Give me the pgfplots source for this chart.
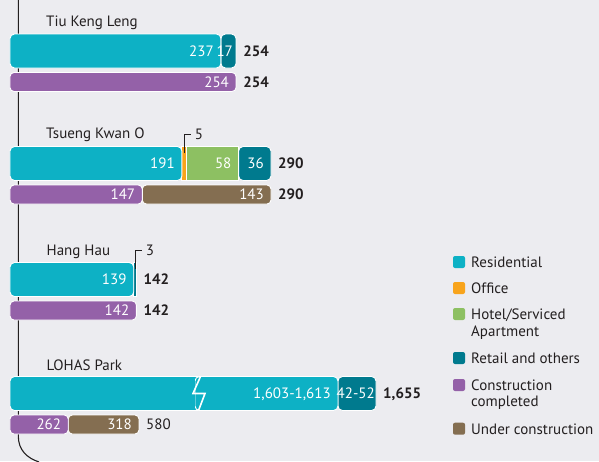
\documentclass[border=0pt]{standalone}
\usepackage{pgfplots}
\pgfplotsset{compat=1.18}
\usepackage{fontspec}
\setmainfont{PT Sans}
\definecolor{bg}{RGB}{236,236,240}
\definecolor{cRes}{RGB}{13,177,197}
\definecolor{cOff}{RGB}{248,164,28}
\definecolor{cHot}{RGB}{141,192,98}
\definecolor{cRet}{RGB}{0,122,142}
\definecolor{cCom}{RGB}{148,97,168}
\definecolor{cUnd}{RGB}{132,110,81}
\definecolor{txt}{RGB}{35,31,32}
\pgfplotsset{
  row/.style={
    xbar stacked, hide axis, clip=false,
    xmin=0, ymin=-1, ymax=1, y=20pt, anchor=west,
    every axis plot/.append style={draw=white, line width=0.9pt},
  },
  up/.style={row, bar width=34pt},
  low/.style={row, bar width=19pt},
}
\tikzset{
  lab/.style={anchor=base east, text=white, inner sep=0pt, xshift=-7pt, yshift=-5.2pt},
  tot/.style={anchor=base west, text=txt, inner sep=0pt, xshift=7pt, yshift=-5.2pt, font=\fontsize{15}{17}\selectfont\bfseries},
  grp/.style={anchor=base west, text=txt, inner sep=0pt},
  leg/.style={anchor=base west, text=txt, inner sep=0pt},
}
\begin{document}
\begin{tikzpicture}[font=\fontsize{15}{17}\selectfont]
\path[use as bounding box, fill=bg] (0pt,0pt) rectangle (599pt,-461pt);
\draw[txt, line width=1.1pt] (18.3pt,1pt) -- (18.3pt,-436pt) .. controls (18.3pt,-450pt) and (27pt,-458pt) .. (39pt,-462pt);

% group titles
\node[grp] at (46pt,-26.7pt) {Tiu Keng Leng};
\node[grp] at (46pt,-138.3pt) {Tsueng Kwan O};
\node[grp] at (46.5pt,-255.7pt) {Hang Hau};
\node[grp] at (46.5pt,-370pt) {LOHAS Park};

% Tiu Keng Leng
\begin{axis}[up, at={(10pt,-51pt)}, x=0.89pt, xmax=300]
\addplot[fill=cRes, rounded corners=4.5pt] coordinates {(237,0)};
\addplot[fill=cRet, rounded corners=4.5pt] coordinates {(17,0)};
\coordinate (a1) at (axis cs:237,0);
\coordinate (a2) at (axis cs:254,0);
\end{axis}
\node[lab] at (a1) {237};
\node[lab, xshift=4pt] at (a2) {17};
\node[tot] at (a2) {254};
\begin{axis}[low, at={(10pt,-82pt)}, x=0.89pt, xmax=300]
\addplot[fill=cCom, rounded corners=4pt] coordinates {(254,0)};
\coordinate (b1) at (axis cs:254,0);
\end{axis}
\node[lab] at (b1) {254};
\node[tot] at (b1) {254};

% Tsueng Kwan O
\begin{axis}[up, at={(10pt,-163.5pt)}, x=0.9pt, xmax=300]
\addplot[fill=cRes, rounded corners=4.5pt] coordinates {(191,0)};
\addplot[fill=cOff] coordinates {(5,0)};
\addplot[fill=cHot] coordinates {(58,0)};
\addplot[fill=cRet, rounded corners=4.5pt] coordinates {(36,0)};
\coordinate (c1) at (axis cs:191,0);
\coordinate (c2) at (axis cs:193.5,0);
\coordinate (c3) at (axis cs:254,0);
\coordinate (c4) at (axis cs:290,0);
\end{axis}
\node[lab] at (c1) {191};
\node[lab] at (c3) {58};
\node[lab] at (c4) {36};
\node[tot] at (c4) {290};
\draw[txt, line width=0.9pt] (c2) ++(0pt,10.5pt) -- ++(0pt,19pt) -- ++(6.7pt,0pt) node[anchor=west, inner sep=0pt, xshift=3.5pt, text=txt] {5};
\begin{axis}[low, at={(10pt,-194.5pt)}, x=0.9pt, xmax=300]
\addplot[fill=cCom, rounded corners=4pt] coordinates {(147,0)};
\addplot[fill=cUnd, rounded corners=4pt] coordinates {(143,0)};
\coordinate (d1) at (axis cs:147,0);
\coordinate (d2) at (axis cs:290,0);
\end{axis}
\node[lab] at (d1) {147};
\node[lab] at (d2) {143};
\node[tot] at (d2) {290};

% Hang Hau
\begin{axis}[up, at={(10pt,-279.5pt)}, x=0.89pt, xmax=300]
\addplot[fill=cRes, rounded corners=4.5pt] coordinates {(139,0)};
\addplot[fill=cRet] coordinates {(3,0)};
\coordinate (e1) at (axis cs:139,0);
\coordinate (e2) at (axis cs:140.8,0);
\coordinate (e3) at (axis cs:142,0);
\end{axis}
\node[lab] at (e1) {139};
\node[tot] at (e3) {142};
\draw[txt, line width=0.9pt] (e2) ++(0pt,11pt) -- ++(0pt,18pt) -- ++(6.7pt,0pt) node[anchor=west, inner sep=0pt, xshift=3.5pt, text=txt] {3};
\begin{axis}[low, at={(10pt,-310.5pt)}, x=0.89pt, xmax=300]
\addplot[fill=cCom, rounded corners=4pt] coordinates {(142,0)};
\coordinate (f1) at (axis cs:142,0);
\end{axis}
\node[lab] at (f1) {142};
\node[tot] at (f1) {142};

% LOHAS Park (broken scale on the residential bar)
\begin{axis}[up, at={(10pt,-393.5pt)}, x=0.89pt, xmax=216.9, clip=true]
\addplot[fill=cRes, rounded corners=4.5pt] coordinates {(1608,0)};
\addplot[fill=cRet, rounded corners=4.5pt] coordinates {(47,0)};
\end{axis}
\begin{axis}[up, at={(195pt,-393.5pt)}, x=0.81pt, xmin=1431.5, xmax=1800, clip=true]
\addplot[fill=cRes, rounded corners=4.5pt] coordinates {(1608,0)};
\addplot[fill=cRet, rounded corners=4.5pt] coordinates {(47,0)};
\coordinate (g1) at (axis cs:1608,0);
\coordinate (g2) at (axis cs:1655,0);
\end{axis}
\node[lab] at (g1) {1,603-1,613};
\node[lab, xshift=6pt] at (g2) {42-52};
\node[tot] at (g2) {1,655};
\draw[white, line width=1.6pt] (200.5pt,-376.5pt) -- (193pt,-393.5pt) -- (205pt,-393.5pt) -- (198.5pt,-410.5pt);
\begin{axis}[low, at={(10pt,-424.5pt)}, x=0.2224pt, xmax=1000]
\addplot[fill=cCom, rounded corners=4pt] coordinates {(262,0)};
\addplot[fill=cUnd, rounded corners=4pt] coordinates {(318,0)};
\coordinate (h1) at (axis cs:262,0);
\coordinate (h2) at (axis cs:580,0);
\end{axis}
\node[lab] at (h1) {262};
\node[lab] at (h2) {318};
\node[tot, font=\fontsize{15}{17}\selectfont] at (h2) {580};

% legend
\fill[cRes, rounded corners=2pt] (453pt,-256pt) rectangle (465pt,-268pt);
\fill[cOff, rounded corners=2pt] (453pt,-282pt) rectangle (465pt,-294pt);
\fill[cHot, rounded corners=2pt] (453pt,-308pt) rectangle (465pt,-320pt);
\fill[cRet, rounded corners=2pt] (453pt,-352pt) rectangle (465pt,-364pt);
\fill[cCom, rounded corners=2pt] (453pt,-379pt) rectangle (465pt,-391pt);
\fill[cUnd, rounded corners=2pt] (453pt,-422.7pt) rectangle (465pt,-434.7pt);
\node[leg] at (471pt,-267pt) {Residential};
\node[leg] at (471pt,-293pt) {Office};
\node[leg] at (471pt,-319.5pt) {Hotel/Serviced};
\node[leg] at (471pt,-336pt) {Apartment};
\node[leg] at (471pt,-363pt) {Retail and others};
\node[leg] at (471pt,-390pt) {Construction};
\node[leg] at (471pt,-406pt) {completed};
\node[leg] at (471pt,-434pt) {Under construction};
\end{tikzpicture}
\end{document}
